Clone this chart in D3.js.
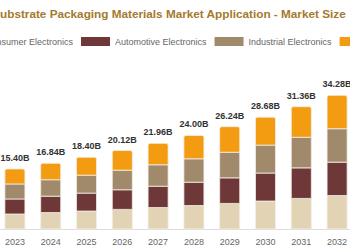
<!DOCTYPE html>
<html>
<head>
<meta charset="utf-8">
<script src="https://cdn.jsdelivr.net/npm/d3@7"></script>
<style>
  body { margin: 0; background: #fff; }
  svg { display: block; font-family: "Liberation Sans", Arial, sans-serif; }
</style>
</head>
<body>
<div id="chart"></div>
<script>
// data (USD billion)
var years = ["2023", "2024", "2025", "2026", "2027", "2028", "2029", "2030", "2031", "2032"];
var consumer   = [3.85, 4.21, 4.60, 5.03, 5.49, 6.00, 6.56, 7.17, 7.84, 8.57];
var automotive = [3.85, 4.21, 4.60, 5.03, 5.49, 6.00, 6.56, 7.17, 7.84, 8.57];
var industrial = [3.85, 4.21, 4.60, 5.03, 5.49, 6.00, 6.56, 7.17, 7.84, 8.57];
var others     = [3.85, 4.21, 4.60, 5.03, 5.49, 6.00, 6.56, 7.17, 7.84, 8.57];
var totals     = ["15.40B", "16.84B", "18.40B", "20.12B", "21.96B", "24.00B", "26.24B", "28.68B", "31.36B", "34.28B"];
var seriesNames = ["Consumer Electronics", "Automotive Electronics", "Industrial Electronics", "Others"];
var colors = ["#e3d3b5", "#6e3838", "#a08a6b", "#f39c12"];
var title = "Substrate Packaging Materials Market Application - Market Size";

var width = 350, height = 250;

var svg = d3.select("#chart").append("svg")
    .attr("width", width)
    .attr("height", height);

// build table for the stack
var table = years.map(function(y, i) {
    return { year: y, s0: consumer[i], s1: automotive[i], s2: industrial[i], s3: others[i], label: totals[i] };
});
var keys = ["s0", "s1", "s2", "s3"];
var stacked = d3.stack().keys(keys)(table);

var x = d3.scaleBand().domain(years).range([-3, 355]).paddingInner(0.44).paddingOuter(0.22);
var y = d3.scaleLinear().domain([0, 40]).range([229, 73]);

// title (first letter runs off the left edge like the reference)
svg.append("text")
    .attr("x", -7.8)
    .attr("y", 18)
    .attr("font-size", 11.75)
    .attr("font-weight", "bold")
    .attr("fill", "#a47a2e")
    .text(title);

// legend
var legend = svg.append("g");
var lx = 0, secondSwatch = 0;
seriesNames.forEach(function(name, i) {
    if (i == 1) { secondSwatch = lx; }
    legend.append("rect")
        .attr("x", lx).attr("y", 37)
        .attr("width", 29).attr("height", 9)
        .attr("fill", colors[i]);
    var t = legend.append("text")
        .attr("x", lx + 34).attr("y", 45)
        .attr("font-size", 9)
        .attr("fill", "#666")
        .text(name);
    lx += 34 + t.node().getComputedTextLength() + 8;
});
legend.attr("transform", "translate(" + (81 - secondSwatch) + ",0)");

// axis
var xAxis = svg.append("g")
    .attr("transform", "translate(0,229)")
    .call(d3.axisBottom(x).tickSize(0).tickPadding(10));
xAxis.select(".domain").attr("stroke", "#ddd");
xAxis.selectAll("text")
    .attr("font-size", 9)
    .attr("fill", "#666")
    .attr("font-family", "Liberation Sans, Arial, sans-serif");

// bars
var rounded = function(x0, y0, w, h, r) {
    return "M" + x0 + "," + (y0 + h) +
        "V" + (y0 + r) + "Q" + x0 + "," + y0 + " " + (x0 + r) + "," + y0 +
        "H" + (x0 + w - r) + "Q" + (x0 + w) + "," + y0 + " " + (x0 + w) + "," + (y0 + r) +
        "V" + (y0 + h) + "Z";
};

stacked.forEach(function(layer, li) {
    svg.append("g")
        .selectAll("path")
        .data(layer)
        .enter().append("path")
        .attr("d", function(d) {
            var top = y(d[1]), bot = y(d[0]);
            var r = li == keys.length - 1 ? 2 : 0;
            return rounded(x(d.data.year), top, x.bandwidth(), bot - top, r);
        })
        .attr("fill", colors[li])
        .attr("stroke", "#f4efe6")
        .attr("stroke-width", 0.8);
});

// total labels
svg.append("g")
    .selectAll("text")
    .data(table)
    .enter().append("text")
    .attr("x", function(d) { return x(d.year) + x.bandwidth() / 2; })
    .attr("y", function(d) { return y(d.s0 + d.s1 + d.s2 + d.s3) - 8; })
    .attr("text-anchor", "middle")
    .attr("font-size", 9)
    .attr("font-weight", "bold")
    .attr("fill", "#333")
    .text(function(d) { return d.label; });
</script>
</body>
</html>
